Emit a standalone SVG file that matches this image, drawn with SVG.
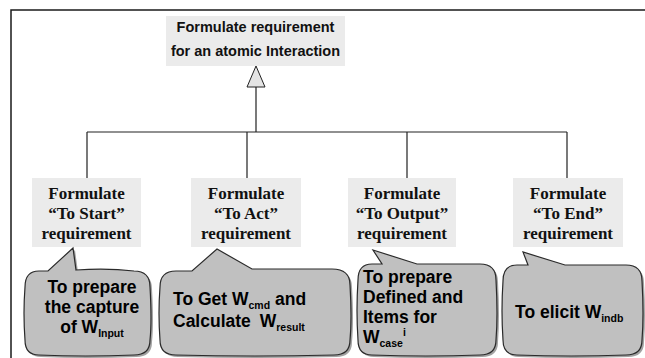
<svg xmlns="http://www.w3.org/2000/svg" width="645" height="358" viewBox="0 0 645 358">
<style>
.frame{fill:none;stroke:#1a1a1a;stroke-width:1.5}
.conn{fill:none;stroke:#222;stroke-width:1.2}
.tri{fill:#e4e4e4;stroke:#222;stroke-width:1}
.box{fill:#ebebeb}
.top{font-family:"Liberation Sans",Arial,sans-serif;font-weight:bold;font-size:14.5px;fill:#111;text-anchor:middle}
.sub{font-family:"Liberation Serif","Times New Roman",serif;font-weight:bold;font-size:17px;fill:#111;text-anchor:middle}
.bub{fill:#c0c0c0;stroke:#2a2a2a;stroke-width:1.2}
.shadow{fill:#555;opacity:0.55}
.bt{font-family:"Liberation Sans",Arial,sans-serif;font-weight:bold;font-size:17.5px;fill:#000}
.s{font-size:10.5px}
</style>
<rect width="645" height="358" fill="#fff"/>
<path class="frame" d="M11,358 V10 H645"/>

<g id="connectors">
<polygon class="tri" points="256,66 247,87 265,87"/>
<path class="conn" d="M256,87 V132 M87,132 H567 M87,132 V178 M247,132 V178 M407,132 V178 M567,132 V178"/>
</g>

<g id="root">
<rect class="box" x="166" y="16" width="179" height="50"/>
<text class="top" x="255.5" y="32">Formulate requirement</text>
<text class="top" x="255.5" y="56">for an atomic Interaction</text>
</g>

<g id="start">
<rect class="box" x="32" y="178" width="109" height="69"/>
<text class="sub" x="86.5" y="199">Formulate</text>
<text class="sub" x="86.5" y="219">“To Start”</text>
<text class="sub" x="86.5" y="239">requirement</text>
</g>
<g id="act">
<rect class="box" x="191" y="178" width="110" height="69"/>
<text class="sub" x="246" y="199">Formulate</text>
<text class="sub" x="246" y="219">“To Act”</text>
<text class="sub" x="246" y="239">requirement</text>
</g>
<g id="output">
<rect class="box" x="348" y="178" width="108" height="69"/>
<text class="sub" x="402" y="199">Formulate</text>
<text class="sub" x="402" y="219">“To Output”</text>
<text class="sub" x="402" y="239">requirement</text>
</g>
<g id="end">
<rect class="box" x="513" y="178" width="110" height="69"/>
<text class="sub" x="568" y="199">Formulate</text>
<text class="sub" x="568" y="219">“To End”</text>
<text class="sub" x="568" y="239">requirement</text>
</g>

<g id="note-start">
<path class="shadow" d="M41,273 H50 L75,250 L78,272 Q110,270 136,273 Q152,273 152,289 Q154,323 152,342 Q152,357 136,357 Q87,359 41,357 Q27,357 27,342 Q25,315 27,289 Q27,273 41,273 Z"/>
<path class="bub" d="M39,271 H48 L73,248 L76,270 Q108,268 134,271 Q150,271 150,287 Q152,321 150,340 Q150,355 134,355 Q85,357 39,355 Q25,355 25,340 Q23,313 25,287 Q25,271 39,271 Z"/>
<text class="bt" x="92" y="293" text-anchor="middle">To prepare</text>
<text class="bt" x="92" y="313" text-anchor="middle">the capture</text>
<text class="bt" x="92" y="333" text-anchor="middle">of W<tspan class="s" dy="4">Input</tspan></text>
</g>

<g id="note-act">
<path class="shadow" d="M178,273 H194 L219,251 L254,271 H334 Q352,271 352,287 Q354,321 352,342 Q352,357 336,357 Q257,359 178,357 Q162,357 162,342 Q160,315 162,289 Q162,273 178,273 Z"/>
<path class="bub" d="M176,271 H192 L217,249 L252,269 H332 Q350,269 350,285 Q352,319 350,340 Q350,355 334,355 Q255,357 176,355 Q160,355 160,340 Q158,313 160,287 Q160,271 176,271 Z"/>
<text class="bt" x="173" y="305">To Get W<tspan class="s" dy="4">cmd</tspan><tspan dy="-4"> and</tspan></text>
<text class="bt" x="173" y="327">Calculate <tspan dx="4">W</tspan><tspan class="s" dy="4">result</tspan></text>
</g>

<g id="note-output">
<path class="shadow" d="M374,266 H384 L375,252 L419,266 H482 Q498,266 498,282 Q500,318 498,342 Q498,357 482,357 Q428,359 374,357 Q360,357 360,342 Q358,313 360,282 Q360,266 374,266 Z"/>
<path class="bub" d="M372,264 H382 L373,250 L417,264 H480 Q496,264 496,280 Q498,316 496,340 Q496,355 480,355 Q426,357 372,355 Q358,355 358,340 Q356,311 358,280 Q358,264 372,264 Z"/>
<text class="bt" x="363" y="283">To prepare</text>
<text class="bt" x="363" y="303">Defined and</text>
<text class="bt" x="363" y="323">Items for</text>
<text class="bt" x="363" y="343">W<tspan class="s" dy="4">case</tspan><tspan class="s" dy="-11">i</tspan></text>
</g>

<g id="note-end">
<path class="shadow" d="M519,267 H530 L525,254 L567,267 H628 Q644,267 644,283 Q646,318 644,342 Q644,357 628,357 Q573,359 519,357 Q505,357 505,342 Q503,313 505,283 Q505,267 519,267 Z"/>
<path class="bub" d="M517,265 H528 L523,252 L565,265 H626 Q642,265 642,281 Q644,316 642,340 Q642,355 626,355 Q571,357 517,355 Q503,355 503,340 Q501,311 503,281 Q503,265 517,265 Z"/>
<text class="bt" x="515" y="318">To elicit W<tspan class="s" dy="4">indb</tspan></text>
</g>
</svg>
